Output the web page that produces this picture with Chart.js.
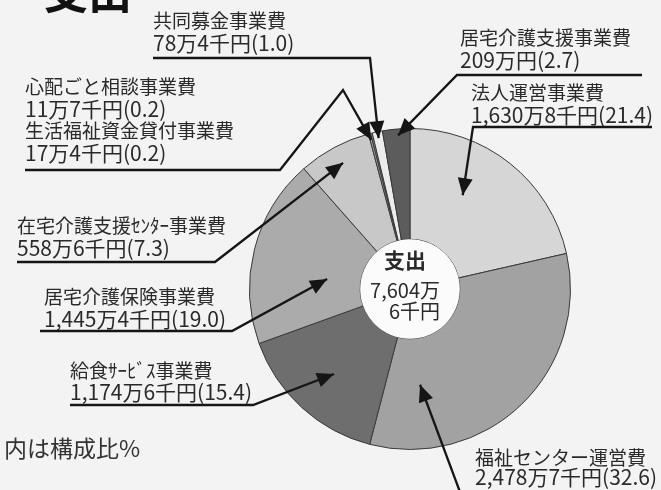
<!DOCTYPE html>
<html lang="ja">
<head>
<meta charset="utf-8">
<script src="https://cdn.jsdelivr.net/npm/chart.js@4.4.0/dist/chart.umd.min.js"></script>
<style>
  html, body { margin: 0; padding: 0; background: #f3f3f3; }
  #wrap { width: 661px; height: 490px; }
</style>
</head>
<body>
<div id="wrap"><canvas id="expenseChart" width="661" height="490"></canvas></div>
<script>
// 支出の内訳（単位：千円）12時の位置から時計回り
const categories = [
  '法人運営事業費',
  '福祉センター運営費',
  '給食ｻｰﾋﾞｽ事業費',
  '居宅介護保険事業費',
  '在宅介護支援ｾﾝﾀｰ事業費',
  '生活福祉資金貸付事業費',
  '心配ごと相談事業費',
  '共同募金事業費',
  '居宅介護支援事業費'
];
const amounts = [16308, 24787, 11746, 14454, 5586, 174, 117, 784, 2090];
const amountLabels = [
  '1,630万8千円', '2,478万7千円', '1,174万6千円', '1,445万4千円',
  '558万6千円', '17万4千円', '11万7千円', '78万4千円', '209万円'
];
const shares = ['21.4', '32.6', '15.4', '19.0', '7.3', '0.2', '0.2', '1.0', '2.7'];
const sliceColors = ['#d6d6d7', '#a2a2a2', '#6e6e6e', '#ababab', '#c8c8c8', '#9a9a9a', '#9a9a9a', '#ececec', '#5c5c5c'];

const titleText = '支出';
const centerTitle = '支出';
const centerLines = ['7,604万', '6千円'];
const footnote = '内は構成比%';

// 吹き出しの配置（文字の位置、下線と引き出し線、矢印の先: [要素, 角度の割合, 半径の割合]）
const callouts = [
  { items: [7], x: 153, y: 21, path: [[153, 58], [370, 58]], tip: [7, 0.5, 0.96] },
  { items: [6, 5], x: 25, y: 87, path: [[25, 170], [280, 170], [343, 90]], tip: [5, 0.5, 0.96] },
  { items: [8], x: 460, y: 38, path: [[642, 75], [457, 75]], tip: [8, 0.55, 0.96] },
  { items: [0], x: 471, y: 93, path: [[652, 127], [473, 127]], tip: [0, 0.38, 0.67] },
  { items: [4], x: 17, y: 226, path: [[17, 262], [215, 262]], tip: [4, 0.51, 0.89] },
  { items: [3], x: 44, y: 297, path: [[40, 331], [232, 331]], tip: [3, 0.39, 0.52] },
  { items: [2], x: 70, y: 371, gap: 21, path: [[70, 405], [253, 405]], tip: [2, 0.49, 0.71] },
  { items: [1], x: 475, y: 458, gap: 19, path: [[460, 492]], tip: [1, 0.825, 0.6] }
];

const FONT = '"Noto Sans CJK JP", "Noto Sans", sans-serif';
const INK = '#2a2a2a';

function tipPoint(chart, tip) {
  const arc = chart.getDatasetMeta(0).data[tip[0]];
  const p = arc.getProps(['x', 'y', 'startAngle', 'endAngle', 'outerRadius'], true);
  const a = p.startAngle + tip[1] * (p.endAngle - p.startAngle);
  const r = tip[2] * p.outerRadius;
  return [p.x + r * Math.cos(a), p.y + r * Math.sin(a)];
}

function drawArrowHead(ctx, from, to) {
  const ang = Math.atan2(to[1] - from[1], to[0] - from[0]);
  const len = 17, half = 7.5;
  ctx.beginPath();
  ctx.moveTo(to[0], to[1]);
  ctx.lineTo(to[0] - len * Math.cos(ang) + half * Math.sin(ang), to[1] - len * Math.sin(ang) - half * Math.cos(ang));
  ctx.lineTo(to[0] - len * Math.cos(ang) - half * Math.sin(ang), to[1] - len * Math.sin(ang) + half * Math.cos(ang));
  ctx.closePath();
  ctx.fill();
}

const calloutPlugin = {
  id: 'callouts',
  beforeDraw(chart) {
    const ctx = chart.ctx;
    ctx.save();
    ctx.fillStyle = '#f3f3f3';
    ctx.fillRect(0, 0, chart.width, chart.height);
    ctx.restore();
  },
  afterDatasetsDraw(chart) {
    const ctx = chart.ctx;
    const arc0 = chart.getDatasetMeta(0).data[0];
    ctx.save();

    // 中央の白い円
    ctx.fillStyle = '#fbfbfb';
    ctx.beginPath();
    ctx.arc(arc0.x, arc0.y, arc0.innerRadius, 0, Math.PI * 2);
    ctx.fill();

    ctx.fillStyle = INK;
    ctx.textBaseline = 'middle';
    ctx.textAlign = 'center';
    ctx.font = 'bold 21px ' + FONT;
    ctx.fillText(centerTitle, arc0.x - 5, arc0.y - 29);
    ctx.textAlign = 'right';
    ctx.font = '20px ' + FONT;
    ctx.fillText(centerLines[0], arc0.x + 30, arc0.y + 1);
    ctx.fillText(centerLines[1], arc0.x + 30, arc0.y + 22);

    // 吹き出し（名称と金額を交互に並べる）
    ctx.textAlign = 'left';
    callouts.forEach(c => {
      const gap = c.gap || 22;
      let k = 0;
      c.items.forEach(i => {
        ctx.font = '19px ' + FONT;
        ctx.fillText(categories[i], c.x, c.y + k * gap);
        k++;
        ctx.font = '21px ' + FONT;
        ctx.fillText(`${amountLabels[i]}(${shares[i]})`, c.x, c.y + k * gap);
        k++;
      });

      const tip = tipPoint(chart, c.tip);
      const pts = c.path.concat([tip]);
      ctx.strokeStyle = '#151515';
      ctx.lineWidth = 2.3;
      ctx.lineJoin = 'miter';
      ctx.beginPath();
      ctx.moveTo(pts[0][0], pts[0][1]);
      for (let n = 1; n < pts.length; n++) ctx.lineTo(pts[n][0], pts[n][1]);
      ctx.stroke();
      ctx.fillStyle = '#151515';
      drawArrowHead(ctx, pts[pts.length - 2], tip);
      ctx.fillStyle = INK;
    });

    // 見出しと注記
    ctx.font = 'bold 44px ' + FONT;
    ctx.textBaseline = 'ideographic';
    ctx.fillStyle = '#111';
    ctx.fillText(titleText, 44, 14);
    ctx.font = '23px ' + FONT;
    ctx.textBaseline = 'middle';
    ctx.fillStyle = '#333';
    ctx.fillText(footnote, 4, 448);

    ctx.restore();
  }
};

new Chart(document.getElementById('expenseChart'), {
  type: 'doughnut',
  data: {
    labels: categories,
    datasets: [{
      data: amounts,
      backgroundColor: sliceColors,
      borderColor: '#3a3a3a',
      borderWidth: 1
    }]
  },
  options: {
    responsive: false,
    animation: false,
    cutout: '31%',
    layout: { padding: { left: 249, right: 90, top: 128, bottom: 40 } },
    plugins: {
      legend: { display: false },
      tooltip: { enabled: false }
    }
  },
  plugins: [calloutPlugin]
});
</script>
</body>
</html>
